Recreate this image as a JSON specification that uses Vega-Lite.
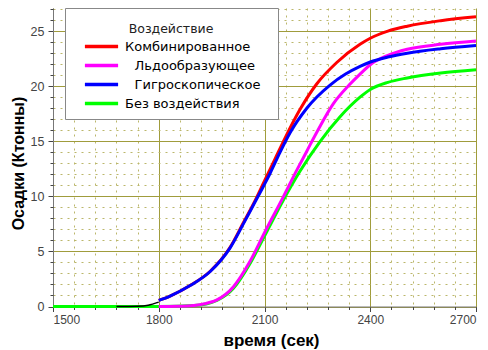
{
  "$schema": "https://vega.github.io/schema/vega-lite/v6.json",
  "width": 423,
  "height": 298.5,
  "autosize": "none",
  "padding": {"left": 53, "top": 8, "right": 12, "bottom": 43.5},
  "background": "white",
  "config": {"view": {"stroke": null}},
  "datasets": {
    "main": [
      {"s": "Комбинированное", "t": 1800, "v": 0.55},
      {"s": "Комбинированное", "t": 1832, "v": 0.95},
      {"s": "Комбинированное", "t": 1889, "v": 1.9},
      {"s": "Комбинированное", "t": 1946, "v": 3.2},
      {"s": "Комбинированное", "t": 2002, "v": 5.35},
      {"s": "Комбинированное", "t": 2040, "v": 7.6},
      {"s": "Комбинированное", "t": 2070, "v": 9.4},
      {"s": "Комбинированное", "t": 2100, "v": 11.4},
      {"s": "Комбинированное", "t": 2130, "v": 13.4},
      {"s": "Комбинированное", "t": 2160, "v": 15.4},
      {"s": "Комбинированное", "t": 2201, "v": 17.9},
      {"s": "Комбинированное", "t": 2248, "v": 20.2},
      {"s": "Комбинированное", "t": 2305, "v": 22.15},
      {"s": "Комбинированное", "t": 2371, "v": 23.8},
      {"s": "Комбинированное", "t": 2400, "v": 24.35},
      {"s": "Комбинированное", "t": 2450, "v": 25.0},
      {"s": "Комбинированное", "t": 2505, "v": 25.45},
      {"s": "Комбинированное", "t": 2600, "v": 25.95},
      {"s": "Комбинированное", "t": 2700, "v": 26.3},
      {"s": "Без воздействия", "t": 1500, "v": 0},
      {"s": "Без воздействия", "t": 1600, "v": 0},
      {"s": "Без воздействия", "t": 1700, "v": 0},
      {"s": "Без воздействия", "t": 1800, "v": 0},
      {"s": "Без воздействия", "t": 1900, "v": 0.08},
      {"s": "Без воздействия", "t": 1965, "v": 0.55},
      {"s": "Без воздействия", "t": 2012, "v": 1.65},
      {"s": "Без воздействия", "t": 2059, "v": 3.9},
      {"s": "Без воздействия", "t": 2100, "v": 6.4},
      {"s": "Без воздействия", "t": 2154, "v": 9.7},
      {"s": "Без воздействия", "t": 2201, "v": 12.3},
      {"s": "Без воздействия", "t": 2258, "v": 15.0},
      {"s": "Без воздействия", "t": 2315, "v": 17.25},
      {"s": "Без воздействия", "t": 2371, "v": 19.0},
      {"s": "Без воздействия", "t": 2400, "v": 19.7},
      {"s": "Без воздействия", "t": 2450, "v": 20.35},
      {"s": "Без воздействия", "t": 2505, "v": 20.75},
      {"s": "Без воздействия", "t": 2600, "v": 21.2},
      {"s": "Без воздействия", "t": 2700, "v": 21.5},
      {"s": "Льдообразующее", "t": 1800, "v": 0},
      {"s": "Льдообразующее", "t": 1850, "v": 0.02},
      {"s": "Льдообразующее", "t": 1900, "v": 0.1},
      {"s": "Льдообразующее", "t": 1930, "v": 0.25},
      {"s": "Льдообразующее", "t": 1965, "v": 0.6},
      {"s": "Льдообразующее", "t": 2012, "v": 1.8},
      {"s": "Льдообразующее", "t": 2059, "v": 4.1},
      {"s": "Льдообразующее", "t": 2100, "v": 6.7},
      {"s": "Льдообразующее", "t": 2154, "v": 10.0},
      {"s": "Льдообразующее", "t": 2192, "v": 12.4},
      {"s": "Льдообразующее", "t": 2220, "v": 14.1},
      {"s": "Льдообразующее", "t": 2248, "v": 15.8},
      {"s": "Льдообразующее", "t": 2295, "v": 18.4},
      {"s": "Льдообразующее", "t": 2340, "v": 20.1},
      {"s": "Льдообразующее", "t": 2371, "v": 21.1},
      {"s": "Льдообразующее", "t": 2400, "v": 21.95},
      {"s": "Льдообразующее", "t": 2450, "v": 22.8},
      {"s": "Льдообразующее", "t": 2505, "v": 23.35},
      {"s": "Льдообразующее", "t": 2600, "v": 23.8},
      {"s": "Льдообразующее", "t": 2700, "v": 24.1},
      {"s": "Гигроскопическое", "t": 1800, "v": 0.55},
      {"s": "Гигроскопическое", "t": 1832, "v": 0.95},
      {"s": "Гигроскопическое", "t": 1889, "v": 1.9},
      {"s": "Гигроскопическое", "t": 1946, "v": 3.18},
      {"s": "Гигроскопическое", "t": 2002, "v": 5.3},
      {"s": "Гигроскопическое", "t": 2040, "v": 7.5},
      {"s": "Гигроскопическое", "t": 2070, "v": 9.3},
      {"s": "Гигроскопическое", "t": 2100, "v": 11.1},
      {"s": "Гигроскопическое", "t": 2116, "v": 12.1},
      {"s": "Гигроскопическое", "t": 2144, "v": 14.0},
      {"s": "Гигроскопическое", "t": 2173, "v": 15.8},
      {"s": "Гигроскопическое", "t": 2220, "v": 18.0},
      {"s": "Гигроскопическое", "t": 2286, "v": 20.1},
      {"s": "Гигроскопическое", "t": 2330, "v": 21.1},
      {"s": "Гигроскопическое", "t": 2371, "v": 21.8},
      {"s": "Гигроскопическое", "t": 2400, "v": 22.2},
      {"s": "Гигроскопическое", "t": 2450, "v": 22.65},
      {"s": "Гигроскопическое", "t": 2505, "v": 23.0},
      {"s": "Гигроскопическое", "t": 2600, "v": 23.4},
      {"s": "Гигроскопическое", "t": 2700, "v": 23.7}
    ],
    "black": [
      {"t": 1680, "v": 0},
      {"t": 1740, "v": 0.03},
      {"t": 1770, "v": 0.12},
      {"t": 1800, "v": 0.4}
    ]
  },
  "layer": [
    {
      "data": {"name": "main"},
      "mark": {"type": "line", "strokeWidth": 3, "interpolate": "monotone"},
      "encoding": {
        "x": {
          "field": "t", "type": "quantitative",
          "scale": {"domain": [1500, 2700], "nice": false, "zero": false},
          "axis": {
            "orient": "bottom",
            "values": [1500, 1800, 2100, 2400, 2700],
            "format": "d",
            "grid": true, "gridColor": "#a09c3c", "gridWidth": 1,
            "tickSize": 5, "tickColor": "#444", "domainColor": "#777",
            "labelFont": "Liberation Sans", "labelFontSize": 12, "labelColor": "#444", "labelPadding": 3,
            "title": "время (сек)", "titleFont": "Liberation Sans", "titleFontWeight": "bold", "titleFontSize": 17,
            "titleColor": "#000", "titleX": 218, "titleY": 34, "titleBaseline": "middle"
          }
        },
        "y": {
          "field": "v", "type": "quantitative",
          "scale": {"domain": [0, 27.1], "nice": false},
          "axis": {
            "orient": "left",
            "values": [0, 5, 10, 15, 20, 25],
            "grid": true, "gridColor": "#a09c3c", "gridWidth": 1,
            "tickSize": 5, "tickColor": "#444", "domainColor": "#777",
            "labelFont": "Liberation Sans", "labelFontSize": 12.5, "labelColor": "#444", "labelPadding": 4,
            "title": "Осадки (Ктонны)", "titleFont": "Liberation Sans", "titleFontWeight": "bold", "titleFontSize": 16,
            "titleColor": "#000", "titleX": -35, "titleY": 155, "titleBaseline": "middle", "titleAngle": -90, "titleAlign": "center"
          }
        },
        "color": {
          "field": "s", "type": "nominal",
          "scale": {
            "domain": ["Комбинированное", "Льдообразующее", "Гигроскопическое", "Без воздействия"],
            "range": ["#ff0000", "#ff00ff", "#0000ff", "#00ff00"]
          },
          "legend": {
            "orient": "none", "legendX": 12, "legendY": 0,
            "title": "Воздействие", "titleBaseline": "line-top", "titleLineHeight": 27,
            "titleFont": "DejaVu Sans", "titleFontSize": 12.5, "titleFontWeight": "normal", "titleColor": "#222",
            "titleAnchor": "middle", "titlePadding": 11.5,
            "labelFont": "DejaVu Sans", "labelFontSize": 13, "labelColor": "#000", "labelLimit": 300,
            "labelExpr": "(datum.label == 'Льдообразующее' || datum.label == 'Гигроскопическое' ? '\u2800' + datum.label : datum.label) + '\u2800'",
            "symbolType": "M-3.6,0H3.6", "symbolSize": 85, "symbolStrokeWidth": 3.5,
            "symbolOffset": 22, "labelOffset": 17,
            "rowPadding": 4,
            "padding": 8,
            "fillColor": "white", "strokeColor": "#888"
          }
        }
      }
    },
    {
      "data": {"name": "black"},
      "mark": {"type": "line", "color": "#000", "strokeWidth": 1.5, "interpolate": "monotone"},
      "encoding": {
        "x": {
          "field": "t", "type": "quantitative",
          "axis": {
            "orient": "bottom",
            "values": [1560, 1620, 1680, 1740, 1860, 1920, 1980, 2040, 2160, 2220, 2280, 2340, 2460, 2520, 2580, 2640],
            "grid": true, "gridColor": "#bbb66a", "gridDash": [2, 5], "gridWidth": 1,
            "tickSize": 3, "tickColor": "#444", "domain": false, "labels": false, "title": null
          }
        },
        "y": {
          "field": "v", "type": "quantitative",
          "axis": {
            "orient": "left",
            "values": [1, 2, 3, 4, 6, 7, 8, 9, 11, 12, 13, 14, 16, 17, 18, 19, 21, 22, 23, 24, 26, 27],
            "grid": true, "gridColor": "#bbb66a", "gridDash": [2, 5], "gridWidth": 1,
            "tickSize": 3, "tickColor": "#444", "domain": false, "labels": false, "title": null
          }
        }
      }
    }
  ],
  "resolve": {"axis": {"x": "independent", "y": "independent"}}
}
